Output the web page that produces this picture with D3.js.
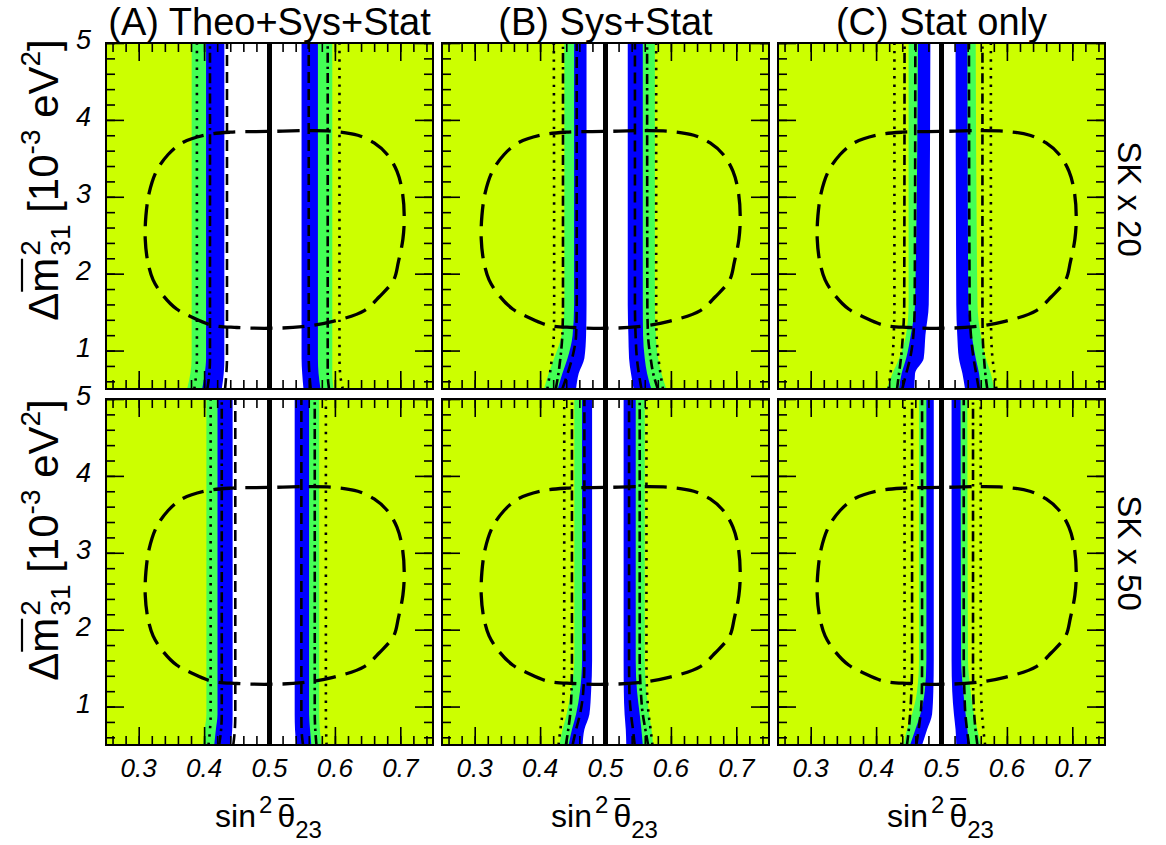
<!DOCTYPE html>
<html><head><meta charset="utf-8">
<script src="https://cdn.jsdelivr.net/npm/d3@7"></script>
<style>
body{margin:0;background:#fff}
svg{display:block}
text{font-family:"Liberation Sans",Arial,Helvetica,sans-serif;fill:#000}
</style>
</head><body>
<svg id="c" width="1166" height="845"></svg>
<script>
// ---------------- data ----------------
const yLevels = [0.5, 0.7, 0.9, 1.2, 1.6, 5.0];           // Δm² levels at which edges are read
const xTickLabels = [0.3, 0.4, 0.5, 0.6, 0.7];
const yTickLabels = [1, 2, 3, 4, 5];
const panelTitles = ["(A) Theo+Sys+Stat", "(B) Sys+Stat", "(C) Stat only"];
const rowLabels = ["SK x 20", "SK x 50"];
const trueValue = 0.5;

// band edges (sin²θ at each yLevel): [greenL, blueL, whiteL, whiteR, blueR, greenR]
const bandsA20 = [
  [0.374, 0.379, 0.381, 0.381, 0.381, 0.381],
  [0.397, 0.401, 0.403, 0.403, 0.403, 0.403],
  [0.427, 0.430, 0.431, 0.431, 0.431, 0.431],
  [0.552, 0.550, 0.549, 0.549, 0.549, 0.549],
  [0.578, 0.575, 0.574, 0.574, 0.574, 0.574],
  [0.598, 0.596, 0.596, 0.596, 0.596, 0.596]];
const bandsB20 = [
  [0.406, 0.413, 0.4215, 0.433, 0.437, 0.437],
  [0.427, 0.434, 0.442, 0.4497, 0.452, 0.452],
  [0.455, 0.459, 0.4677, 0.4703, 0.471, 0.471],
  [0.543, 0.539, 0.536, 0.535, 0.534, 0.534],
  [0.570, 0.5636, 0.560, 0.5574, 0.557, 0.557],
  [0.593, 0.5856, 0.5805, 0.577, 0.5755, 0.5755]];
const bandsC20 = [
  [0.4165, 0.425, 0.4354, 0.4457, 0.4497, 0.4497],
  [0.435, 0.439, 0.446, 0.453, 0.4595, 0.464],
  [0.4585, 0.4595, 0.4728, 0.4754, 0.4805, 0.483],
  [0.536, 0.532, 0.5266, 0.5241, 0.5226, 0.5215],
  [0.560, 0.5574, 0.5523, 0.5462, 0.541, 0.5395],
  [0.5805, 0.5754, 0.5677, 0.560, 0.555, 0.5523]];
const bandsA50 = [
  [0.3985, 0.401, 0.4035, 0.4035, 0.4035, 0.4035],
  [0.4155, 0.418, 0.4205, 0.4205, 0.4205, 0.4205],
  [0.441, 0.443, 0.4436, 0.4436, 0.4436, 0.4436],
  [0.541, 0.539, 0.5385, 0.5385, 0.5385, 0.5385],
  [0.564, 0.562, 0.5605, 0.5605, 0.5605, 0.5605],
  [0.5795, 0.577, 0.576, 0.576, 0.576, 0.576]];
const bandsB50 = [
  [0.4292, 0.4344, 0.4405, 0.4472, 0.4523, 0.4523],
  [0.4436, 0.4487, 0.455, 0.461, 0.4641, 0.4641],
  [0.465, 0.4677, 0.4754, 0.478, 0.4795, 0.4795],
  [0.5318, 0.531, 0.5292, 0.528, 0.5277, 0.5277],
  [0.557, 0.5549, 0.5523, 0.5482, 0.5462, 0.5462],
  [0.5728, 0.5703, 0.5667, 0.5626, 0.560, 0.560]];
const bandsC50 = [
  [0.442, 0.4472, 0.455, 0.4626, 0.4656, 0.4656],
  [0.452, 0.46, 0.4677, 0.4744, 0.4769, 0.4769],
  [0.4703, 0.478, 0.4856, 0.4875, 0.4882, 0.4882],
  [0.5226, 0.5215, 0.519, 0.5164, 0.5154, 0.5154],
  [0.542, 0.5395, 0.5369, 0.5333, 0.530, 0.5292],
  [0.560, 0.5549, 0.5497, 0.5446, 0.5405, 0.5395]];

// contour lines: [dottedL, dashdotL, dashedL, dashedR, dashdotR, dottedR]
const linesA20 = [
  [0.385, 0.388, 0.389, 0.389, 0.389, 0.389],
  [0.405, 0.408, 0.409, 0.409, 0.409, 0.409],
  [0.432, 0.434, 0.435, 0.435, 0.435, 0.435],
  [0.563, 0.561, 0.560, 0.560, 0.560, 0.560],
  [0.591, 0.589, 0.589, 0.589, 0.589, 0.589],
  [0.612, 0.608, 0.607, 0.607, 0.607, 0.607]];
const linesB20 = [
  [0.411, 0.415, 0.418, 0.421, 0.4215, 0.421],
  [0.424, 0.428, 0.431, 0.434, 0.435, 0.435],
  [0.434, 0.442, 0.449, 0.455, 0.456, 0.456],
  [0.555, 0.551, 0.548, 0.546, 0.545, 0.545],
  [0.580, 0.573, 0.569, 0.565, 0.564, 0.5636],
  [0.588, 0.584, 0.581, 0.578, 0.5775, 0.5775]];
const linesC20 = [
  [0.419, 0.422, 0.425, 0.427, 0.428, 0.428],
  [0.432, 0.435, 0.438, 0.441, 0.443, 0.4435],
  [0.440, 0.446, 0.452, 0.457, 0.459, 0.460],
  [0.557, 0.553, 0.549, 0.545, 0.543, 0.542],
  [0.570, 0.567, 0.565, 0.563, 0.5626, 0.5626],
  [0.584, 0.581, 0.578, 0.576, 0.5755, 0.5755]];
const linesA50 = [
  [0.4067, 0.409, 0.410, 0.410, 0.410, 0.410],
  [0.423, 0.426, 0.427, 0.427, 0.427, 0.427],
  [0.4446, 0.447, 0.4477, 0.4477, 0.4477, 0.4477],
  [0.5513, 0.549, 0.5487, 0.5487, 0.5487, 0.5487],
  [0.5718, 0.570, 0.5692, 0.5692, 0.5692, 0.5692],
  [0.5872, 0.5865, 0.5862, 0.5862, 0.5862, 0.5862]];
const linesB50 = [
  [0.4282, 0.431, 0.434, 0.436, 0.4369, 0.4369],
  [0.4395, 0.443, 0.446, 0.448, 0.4487, 0.4487],
  [0.4497, 0.455, 0.461, 0.466, 0.4677, 0.4677],
  [0.5446, 0.542, 0.539, 0.5365, 0.536, 0.536],
  [0.5651, 0.561, 0.557, 0.554, 0.5523, 0.5523],
  [0.5718, 0.569, 0.566, 0.5635, 0.5626, 0.5626]];
const linesC50 = [
  [0.4385, 0.440, 0.442, 0.443, 0.4435, 0.4435],
  [0.4472, 0.450, 0.452, 0.454, 0.455, 0.455],
  [0.4615, 0.465, 0.468, 0.470, 0.4703, 0.4703],
  [0.542, 0.539, 0.5365, 0.535, 0.534, 0.534],
  [0.5549, 0.552, 0.550, 0.5485, 0.5482, 0.5482],
  [0.5667, 0.564, 0.562, 0.5605, 0.560, 0.560]];

// closed dashed contour (same in all panels)
const contourX = [0.50, 0.56, 0.60, 0.635, 0.66, 0.68, 0.695, 0.703, 0.706, 0.704, 0.697, 0.690, 0.668, 0.645, 0.597, 0.55,
                  0.50, 0.45, 0.412, 0.38, 0.358, 0.337, 0.322, 0.314, 0.310, 0.311, 0.316, 0.327, 0.345, 0.366, 0.40, 0.44];
const contourY = [3.85, 3.86, 3.85, 3.80, 3.70, 3.55, 3.33, 3.07, 2.75, 2.45, 2.15, 1.92, 1.70, 1.52, 1.38, 1.31,
                  1.29, 1.30, 1.33, 1.44, 1.54, 1.72, 1.92, 2.15, 2.45, 2.75, 3.05, 3.33, 3.55, 3.70, 3.80, 3.84];

// ---------------- drawing ----------------
const svg = d3.select("#c");
svg.append("rect").attr("width", 1166).attr("height", 845).attr("fill", "#fff");

const colLeft = [106, 442, 778], rowTop = [43, 399], W = 327, H = 346;
const x = d3.scaleLinear().domain([0.25, 0.75]).range([0, W]);
const y = d3.scaleLinear().domain([0.5, 5]).range([H, 0]);

const bandGrid = [[bandsA20, bandsB20, bandsC20], [bandsA50, bandsB50, bandsC50]];
const lineGrid = [[linesA20, linesB20, linesC20], [linesA50, linesB50, linesC50]];
const dashStyles = ["2.4 6", "10 4 2.4 4", "11 6", "11 6", "10 4 2.4 4", "2.4 6"];
const colors = {bg: "#ccff00", green: "#44ff55", blue: "#0000ff", white: "#ffffff"};

const area = d3.area().curve(d3.curveMonotoneY)
  .y(d => y(d.y)).x0(d => x(d.l)).x1(d => x(d.r));
const vline = d3.line().curve(d3.curveMonotoneY)
  .x(d => x(d.x)).y(d => y(d.y));
const closed = d3.line().curve(d3.curveCatmullRomClosed.alpha(0.5))
  .x(d => x(d[0])).y(d => y(d[1]));

const xMinor = d3.range(0.26, 0.7501, 0.02);
const yMinor = d3.range(0.6, 5.001, 0.2);

function tickAxis(g, gen, values, size) {
  g.call(gen.tickValues(values).tickSize(size).tickFormat(""));
  g.select(".domain").remove();
  g.selectAll("line").attr("stroke", "#000").attr("stroke-width", 1.6);
}

const defs = svg.append("defs");

rowTop.forEach((top, ri) => {
  colLeft.forEach((left, ci) => {
    const bands = bandGrid[ri][ci];
    const lines = lineGrid[ri][ci];
    const id = `clip${ri}${ci}`;
    defs.append("clipPath").attr("id", id).append("rect").attr("width", W).attr("height", H);
    const g = svg.append("g").attr("transform", `translate(${left},${top})`);
    const inner = g.append("g").attr("clip-path", `url(#${id})`);
    inner.append("rect").attr("width", W).attr("height", H).attr("fill", colors.bg);

    const pairs = [[0, 5, colors.green], [1, 4, colors.blue], [2, 3, colors.white]];
    pairs.forEach(([l, r, col]) => {
      const dat = yLevels.map((yy, i) => ({y: yy, l: bands[l][i], r: bands[r][i]}));
      inner.append("path").attr("d", area(dat)).attr("fill", col).attr("stroke", "none");
    });

    inner.append("line")
      .attr("x1", x(trueValue)).attr("x2", x(trueValue)).attr("y1", 0).attr("y2", H)
      .attr("stroke", "#000").attr("stroke-width", 5);

    lines.forEach((arr, k) => {
      const dat = yLevels.map((yy, i) => ({y: yy, x: arr[i]}));
      inner.append("path").attr("d", vline(dat)).attr("fill", "none")
        .attr("stroke", "#000").attr("stroke-width", 2.6)
        .attr("stroke-dasharray", dashStyles[k]);
    });

    inner.append("path")
      .attr("d", closed(contourX.map((v, i) => [v, contourY[i]])))
      .attr("fill", "none").attr("stroke", "#000").attr("stroke-width", 3.3)
      .attr("stroke-dasharray", "22 10");

    // ticks on four sides, pointing inward
    const majX = xTickLabels, majY = yTickLabels;
    tickAxis(g.append("g").attr("transform", `translate(0,${H})`), d3.axisBottom(x), xMinor, -9);
    tickAxis(g.append("g").attr("transform", `translate(0,${H})`), d3.axisBottom(x), majX, -18);
    tickAxis(g.append("g"), d3.axisTop(x), xMinor, -9);
    tickAxis(g.append("g"), d3.axisTop(x), majX, -18);
    tickAxis(g.append("g"), d3.axisLeft(y), yMinor, -9);
    tickAxis(g.append("g"), d3.axisLeft(y), majY, -18);
    tickAxis(g.append("g").attr("transform", `translate(${W},0)`), d3.axisRight(y), yMinor, -9);
    tickAxis(g.append("g").attr("transform", `translate(${W},0)`), d3.axisRight(y), majY, -18);

    g.append("rect").attr("width", W).attr("height", H).attr("fill", "none")
      .attr("stroke", "#000").attr("stroke-width", 2);

    if (ri === 1) {
      xTickLabels.forEach(v => {
        g.append("text").attr("x", x(v)).attr("y", H + 32).attr("text-anchor", "middle")
          .attr("font-size", 26).attr("font-style", "italic").text(v.toFixed(1));
      });
      // x title: sin² θ̄₂₃
      const t = g.append("text").attr("x", W / 2 - 1).attr("y", H + 82).attr("text-anchor", "middle")
        .attr("font-size", 32);
      t.append("tspan").text("sin");
      t.append("tspan").attr("font-size", 24).attr("dy", -14).attr("dx", 3).text("2");
      t.append("tspan").attr("dy", 14).attr("dx", 5).text("θ");
      t.append("tspan").attr("font-size", 24).attr("dy", 11).text("23");
      const e = t.node().getExtentOfChar(4);
      g.append("line").attr("x1", e.x + 1).attr("x2", e.x + e.width - 1)
        .attr("y1", e.y + 1).attr("y2", e.y + 1).attr("stroke", "#000").attr("stroke-width", 2);
    }
    if (ci === 0) {
      yTickLabels.forEach(v => {
        g.append("text").attr("x", -15).attr("y", y(v) - 3).attr("dy", "0.35em").attr("text-anchor", "end")
          .attr("font-size", 27).attr("font-style", "italic").text(v);
      });
      const cy = ri === 0 ? 180 - top : 540 - top;
      const tg = g.append("g").attr("transform", `translate(${58 - left},${cy}) rotate(-90)`);
      const t = tg.append("text").attr("text-anchor", "middle").attr("font-size", 42);
      t.append("tspan").text("Δm");
      t.append("tspan").attr("font-size", 28).attr("dy", -18).attr("dx", 2).text("2");
      t.append("tspan").attr("font-size", 28).attr("dy", 30).attr("dx", -15.5).text("31");
      t.append("tspan").attr("dy", -12).text(" [10");
      t.append("tspan").attr("font-size", 28).attr("dy", -18).text("-3");
      t.append("tspan").attr("dy", 18).text(" eV");
      t.append("tspan").attr("font-size", 28).attr("dy", -18).text("2");
      t.append("tspan").attr("dy", 18).text("]");
      const e = t.node().getExtentOfChar(1);
      tg.append("line").attr("x1", e.x + 1).attr("x2", e.x + e.width - 1)
        .attr("y1", e.y + 2).attr("y2", e.y + 2).attr("stroke", "#000").attr("stroke-width", 2.2);
    }
    if (ri === 0) {
      g.append("text").attr("x", W / 2).attr("y", -8).attr("text-anchor", "middle")
        .attr("font-size", 38).text(panelTitles[ci]);
    }
    if (ci === 2) {
      const cy = ri === 0 ? 199 - top : 553 - top;
      g.append("text").attr("transform", `translate(${1118 - left},${cy}) rotate(90)`)
        .attr("text-anchor", "middle").attr("font-size", 33).text(rowLabels[ri]);
    }
  });
});
</script>
</body></html>
